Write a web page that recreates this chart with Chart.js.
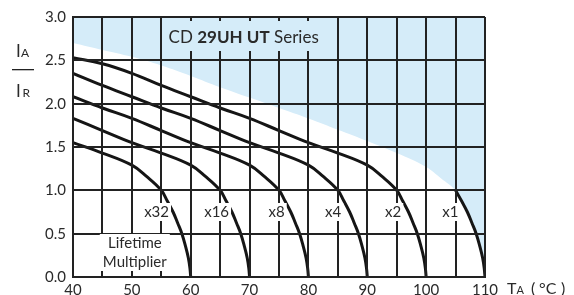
<!DOCTYPE html>
<html lang="en">
<head>
<meta charset="UTF-8">
<title>CD 29UH UT Series</title>
<script src="https://cdn.jsdelivr.net/npm/chart.js"></script>
<style>
  body { margin: 0; background: #fff; }
  canvas { display: block; }
</style>
</head>
<body>
<canvas id="myChart" width="574" height="295"></canvas>
<script>
// ambient temperature (C) and ripple ratio IA/IR for each lifetime multiplier
const t32 = [40, 45, 50, 52.5, 55, 56, 57, 57.8, 58.5, 59.1, 59.6, 59.87, 60]
const r32 = [1.55, 1.43, 1.29, 1.16, 1.0, 0.88, 0.75, 0.62, 0.5, 0.36, 0.22, 0.1, 0]
const t16 = [40, 45, 50, 55, 60, 62.5, 65, 66, 67, 67.8, 68.5, 69.1, 69.6, 69.87, 70]
const r16 = [1.83, 1.69, 1.55, 1.43, 1.29, 1.16, 1.0, 0.88, 0.75, 0.62, 0.5, 0.36, 0.22, 0.1, 0]
const t8 = [40, 45, 50, 55, 60, 65, 70, 72.5, 75, 76, 77, 77.8, 78.5, 79.1, 79.6, 79.87, 80]
const r8 = [2.08, 1.95, 1.83, 1.69, 1.55, 1.43, 1.29, 1.16, 1.0, 0.88, 0.75, 0.62, 0.5, 0.36, 0.22, 0.1, 0]
const t4 = [40, 45, 50, 55, 60, 65, 70, 75, 80, 82.5, 85, 86, 87, 87.8, 88.5, 89.1, 89.6, 89.87, 90]
const r4 = [2.35, 2.21, 2.08, 1.95, 1.83, 1.69, 1.55, 1.43, 1.29, 1.16, 1.0, 0.88, 0.75, 0.62, 0.5, 0.36, 0.22, 0.1, 0]
const t2 = [40, 45, 50, 55, 60, 65, 70, 75, 80, 85, 90, 92.5, 95, 96, 97, 97.8, 98.5, 99.1, 99.6, 99.87, 100]
const r2 = [2.53, 2.46, 2.35, 2.21, 2.08, 1.95, 1.83, 1.69, 1.55, 1.43, 1.29, 1.16, 1.0, 0.88, 0.75, 0.62, 0.5, 0.36, 0.22, 0.1, 0]
const t1 = [105, 106, 107, 107.8, 108.5, 109.1, 109.6, 109.87, 110]
const r1 = [1.0, 0.88, 0.75, 0.62, 0.5, 0.36, 0.22, 0.1, 0]

// edge of the blue (not allowed) region
const limitT = [40, 45, 50, 55, 60, 65, 70, 75, 80, 85, 90, 95, 100, 102.5, 105, 106, 107, 107.8, 108.5, 109.1, 109.6, 109.87, 110]
const limitR = [2.70, 2.62, 2.54, 2.44, 2.32, 2.19, 2.07, 1.95, 1.83, 1.70, 1.57, 1.43, 1.27, 1.14, 1.0, 0.88, 0.75, 0.62, 0.5, 0.36, 0.22, 0.1, 0]

const multNames = ['x32', 'x16', 'x8', 'x4', 'x2', 'x1']
const multNameT = [54.2, 64.4, 74.6, 84.2, 94.4, 104.1]
const multNameR = 0.75

const FONT = 'Lato, "Open Sans", sans-serif'
const BLUE = '#d5ecf9'
const INK = '#2a2a2a'

const pts = (t, r) => t.map((v, i) => ({ x: v, y: r[i] }))

const curve = (t, r) => ({
    data: pts(t, r),
    borderColor: '#151515',
    borderWidth: 3,
    pointRadius: 0,
    tension: 0.4,
    fill: false,
    order: 1
})

const textPlugin = {
    id: 'texts',
    afterDraw(chart) {
        const ctx = chart.ctx
        const x = chart.scales.x
        const y = chart.scales.y
        ctx.save()
        ctx.textBaseline = 'middle'
        ctx.textAlign = 'center'

        // multiplier names
        ctx.font = '15px ' + FONT
        multNames.forEach((n, i) => {
            const px = x.getPixelForValue(multNameT[i])
            const py = y.getPixelForValue(multNameR)
            const w = ctx.measureText(n).width + 4
            ctx.fillStyle = '#fff'
            ctx.fillRect(px - w / 2, py - 9, w, 18)
            ctx.fillStyle = INK
            ctx.fillText(n, px, py)
        })

        // Lifetime Multiplier
        const lx = x.getPixelForValue(50.5)
        ctx.font = '15px ' + FONT
        ctx.fillStyle = '#fff'
        ctx.fillRect(lx - 35, 234, 70, 37)
        ctx.fillStyle = INK
        ctx.fillText('Lifetime', lx, 243)
        ctx.fillText('Multiplier', lx, 262)

        // series title, mixed weights
        const parts = [['CD ', '400'], ['29UH UT', '700'], [' Series', '400']]
        let total = 0
        parts.forEach(p => { ctx.font = p[1] + ' 17px ' + FONT; total += ctx.measureText(p[0]).width })
        const cx = x.getPixelForValue(69)
        ctx.fillStyle = BLUE
        ctx.fillRect(cx - total / 2 - 6, 21, total + 12, 30)
        ctx.fillStyle = INK
        ctx.textAlign = 'left'
        let px = cx - total / 2
        parts.forEach(p => {
            ctx.font = p[1] + ' 17px ' + FONT
            ctx.fillText(p[0], px, 38)
            px += ctx.measureText(p[0]).width
        })

        // y axis title IA / IR
        ctx.textBaseline = 'alphabetic'
        ctx.font = '17px ' + FONT
        ctx.fillText('I', 16, 57)
        ctx.fillText('I', 16, 97)
        ctx.font = '12px ' + FONT
        ctx.fillText('A', 21, 57)
        ctx.fillText('R', 22.5, 97)
        ctx.fillStyle = '#222'
        ctx.fillRect(12, 69, 22, 1.3)

        // x axis title TA (°C)
        ctx.fillStyle = INK
        ctx.font = '16px ' + FONT
        ctx.fillText('T', 507, 294)
        ctx.fillText('(', 531, 294)
        ctx.fillText('°C', 539, 294)
        ctx.fillText(')', 561, 294)
        ctx.font = '11px ' + FONT
        ctx.fillText('A', 516.5, 294)
        ctx.restore()
    }
}

const ctx = document.getElementById('myChart').getContext('2d')
const myChart = new Chart(ctx, {
    type: 'line',
    data: {
        datasets: [
            {
                data: pts(limitT, limitR),
                borderWidth: 0,
                borderColor: 'rgba(0,0,0,0)',
                backgroundColor: BLUE,
                pointRadius: 0,
                tension: 0.4,
                fill: 'end',
                order: 5
            },
            curve(t32, r32),
            curve(t16, r16),
            curve(t8, r8),
            curve(t4, r4),
            curve(t2, r2),
            curve(t1, r1)
        ]
    },
    options: {
        responsive: false,
        animation: false,
        layout: { padding: { top: 17, right: 89, left: 0, bottom: 0 } },
        plugins: { legend: { display: false }, tooltip: { enabled: false } },
        scales: {
            x: {
                type: 'linear',
                min: 40,
                max: 110,
                afterFit: s => { s.height = 18 },
                grid: { color: '#222', lineWidth: 2, drawTicks: false, z: 1 },
                border: { color: '#222', width: 2, z: 1 },
                ticks: {
                    stepSize: 5,
                    autoSkip: false,
                    maxRotation: 0,
                    padding: 4,
                    color: INK,
                    font: { family: FONT, size: 15 },
                    callback: v => (v % 10 === 0 ? v : '')
                }
            },
            y: {
                min: 0,
                max: 3,
                afterFit: s => { s.width = 73 },
                grid: { color: '#222', lineWidth: 2, drawTicks: false, z: 1 },
                border: { color: '#222', width: 2, z: 1 },
                ticks: {
                    stepSize: 0.5,
                    padding: 7,
                    color: INK,
                    font: { family: FONT, size: 15 },
                    callback: v => v.toFixed(1)
                }
            }
        }
    },
    plugins: [textPlugin]
})
</script>
</body>
</html>
